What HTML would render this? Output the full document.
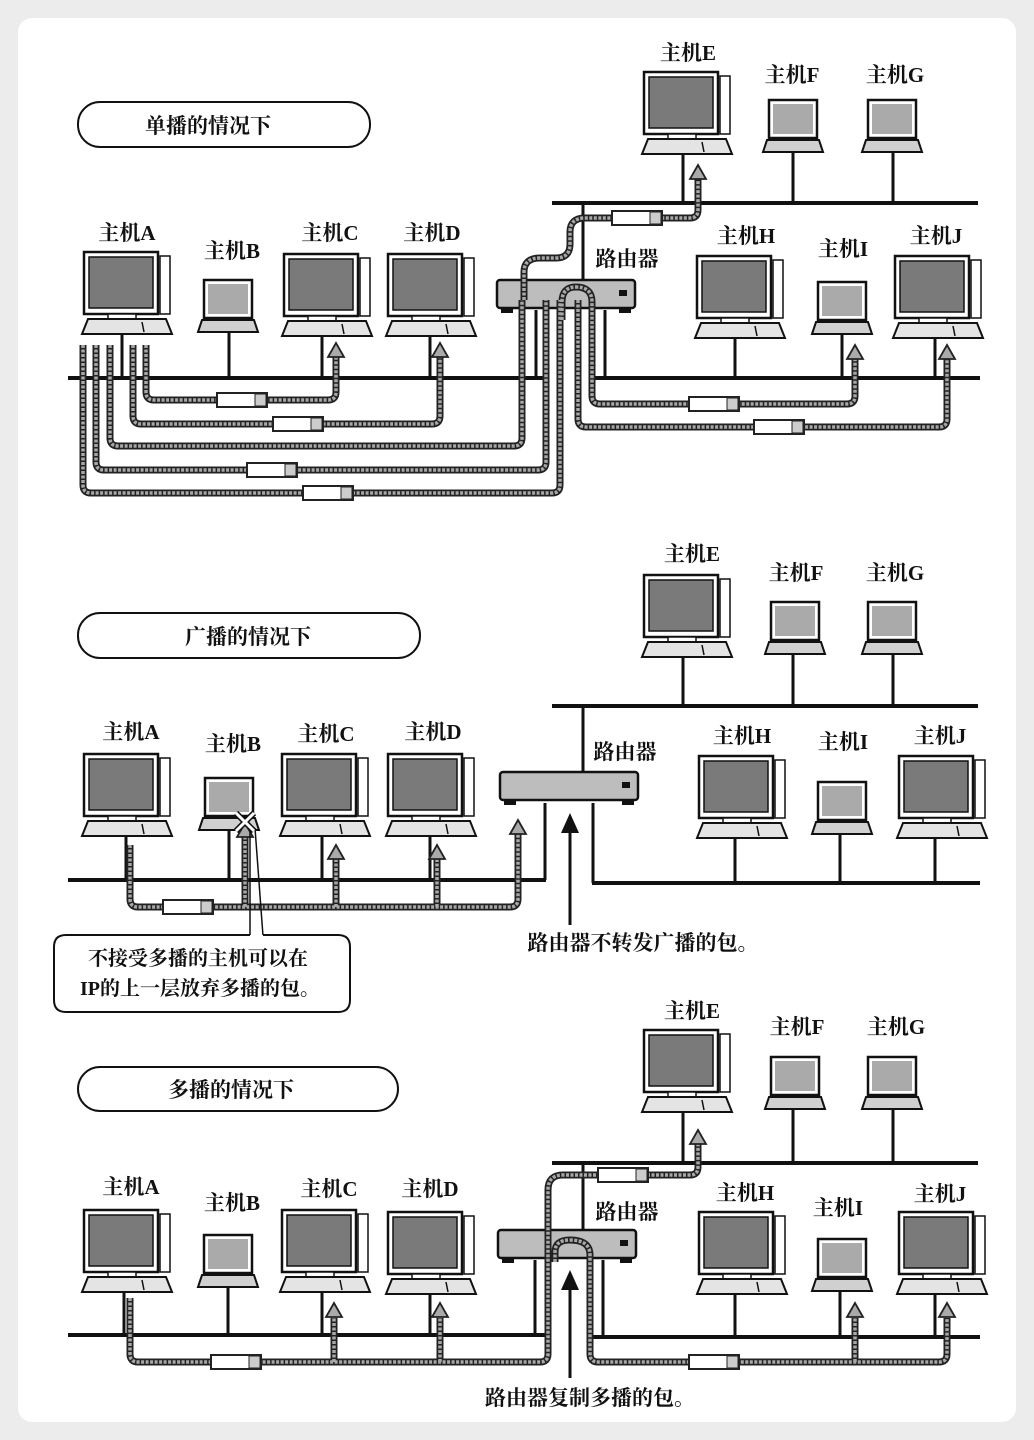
<!DOCTYPE html>
<html><head><meta charset="utf-8"><style>
html,body{margin:0;padding:0;background:#ececec;}
svg{display:block}
.t{font-family:"Liberation Serif","Noto Serif CJK SC",serif;font-weight:bold;font-size:21px;fill:#111;text-anchor:middle}
.bus{stroke:#111;stroke-width:4;fill:none}
.drop{stroke:#111;stroke-width:3;fill:none}
.po{stroke:#222;stroke-width:7;fill:none}
.pi{stroke:#a8a8a8;stroke-width:3.5;fill:none;stroke-dasharray:3 1.5}
</style></head><body>
<svg width="1034" height="1440" viewBox="0 0 1034 1440" xmlns="http://www.w3.org/2000/svg">
<defs>
<g id="pc">
<rect x="2" y="0" width="74" height="62" fill="#fff" stroke="#111" stroke-width="2.5"/>
<rect x="7" y="5" width="64" height="51" fill="#7a7a7a" stroke="#111" stroke-width="1.5"/>
<rect x="78" y="4" width="10" height="58" fill="#fff" stroke="#111" stroke-width="1.5"/>
<rect x="26" y="62" width="28" height="5" fill="#fff" stroke="#111" stroke-width="1.5"/>
<path d="M6 67 H84 L90 82 H0 Z" fill="#e4e4e4" stroke="#111" stroke-width="2"/>
<line x1="60" y1="70" x2="62" y2="80" stroke="#111" stroke-width="1.5"/>
</g>
<g id="lt">
<rect x="6" y="0" width="48" height="38" fill="#fff" stroke="#111" stroke-width="2.5"/>
<rect x="10" y="4" width="40" height="30" fill="#aaa"/>
<path d="M4 40 H56 L60 52 H0 Z" fill="#d0d0d0" stroke="#111" stroke-width="2"/>
</g>
<g id="rt">
<rect x="0" y="0" width="138" height="28" rx="3" fill="#bdbdbd" stroke="#111" stroke-width="2.5"/>
<rect x="4" y="27" width="12" height="6" fill="#111"/>
<rect x="122" y="27" width="12" height="6" fill="#111"/>
<rect x="122" y="10" width="8" height="6" fill="#111"/>
</g>
<g id="pk">
<rect x="-25" y="-7" width="50" height="14" fill="#fff" stroke="#222" stroke-width="2"/>
<rect x="13" y="-6" width="11" height="12" fill="#ccc" stroke="#222" stroke-width="1"/>
</g>
<polygon id="ga" points="0,0 -8,14 8,14" fill="#aaa" stroke="#222" stroke-width="1.8"/>
<path id="a1" d="M146 345 V392 Q146 400 154 400 H328 Q336 400 336 392 V357"/>
<path id="a2" d="M133 345 V416 Q133 424 141 424 H432 Q440 424 440 416 V357"/>
<path id="a3" d="M110 345 V438 Q110 446 118 446 H514 Q522 446 522 438 V300"/>
<path id="a4" d="M96 345 V462 Q96 470 104 470 H538 Q546 470 546 462 V300"/>
<path id="a5" d="M83 345 V485 Q83 493 91 493 H552 Q560 493 560 485 V300"/>
<path id="a6" d="M524 300 V272 Q524 258 540 258 H556 Q570 258 570 244 V232 Q570 218 585 218 H690 Q698 218 698 210 V179"/>
<path id="a7" d="M562 320 V302 Q562 287 576 287 Q592 287 592 302 V396 Q592 404 600 404 H847 Q855 404 855 396 V359"/>
<path id="a8" d="M578 300 V419 Q578 427 586 427 H939 Q947 427 947 419 V359"/>
<path id="b1" d="M130 845 V899 Q130 907 138 907 H510 Q518 907 518 899 V834"/>
<path id="b2" d="M245 907 V837 M336 907 V859 M437 907 V859"/>
<path id="c1" d="M130 1298 V1354 Q130 1362 138 1362 H540 Q548 1362 548 1354 V1190 Q548 1175 563 1175 H690 Q698 1175 698 1167 V1144"/>
<path id="c2" d="M334 1362 V1318 M440 1362 V1318"/>
<path id="c3" d="M555 1262 V1252 Q555 1240 570 1240 Q590 1240 590 1255 V1354 Q590 1362 598 1362 H939 Q947 1362 947 1354 V1318"/>
<path id="c4" d="M855 1362 V1318"/>
</defs>
<rect x="0" y="0" width="1034" height="1440" fill="#ececec"/>
<rect x="18" y="18" width="998" height="1404" rx="14" fill="#fff"/>

<!-- ============ SECTION 1 ============ -->
<rect x="78" y="102" width="292" height="45" rx="22" fill="#fff" stroke="#111" stroke-width="2"/>
<text class="t" x="208" y="133">单播的情况下</text>
<text class="t" x="127" y="240">主机A</text><text class="t" x="232" y="258">主机B</text>
<text class="t" x="330" y="240">主机C</text><text class="t" x="432" y="240">主机D</text>
<text class="t" x="688" y="60">主机E</text><text class="t" x="792" y="82">主机F</text>
<text class="t" x="895" y="82">主机G</text><text class="t" x="746" y="243">主机H</text>
<text class="t" x="843" y="256">主机I</text><text class="t" x="936" y="243">主机J</text>
<text class="t" x="627" y="266">路由器</text>
<line class="bus" x1="68" y1="378" x2="546" y2="378"/>
<line class="bus" x1="592" y1="378" x2="980" y2="378"/>
<line class="bus" x1="552" y1="203" x2="978" y2="203"/>
<g class="drop"><line x1="122" y1="333" x2="122" y2="378"/><line x1="229" y1="330" x2="229" y2="378"/><line x1="322" y1="336" x2="322" y2="378"/><line x1="430" y1="336" x2="430" y2="378"/>
<line x1="683" y1="154" x2="683" y2="203"/><line x1="793" y1="153" x2="793" y2="203"/><line x1="893" y1="153" x2="893" y2="203"/>
<line x1="735" y1="336" x2="735" y2="378"/><line x1="842" y1="333" x2="842" y2="378"/><line x1="935" y1="336" x2="935" y2="378"/>
<line x1="583" y1="203" x2="583" y2="282"/><line x1="536" y1="310" x2="536" y2="378"/><line x1="605" y1="310" x2="605" y2="378"/></g>
<use href="#pc" x="82" y="252"/><use href="#lt" x="198" y="280"/><use href="#pc" x="282" y="254"/><use href="#pc" x="386" y="254"/>
<use href="#pc" x="642" y="72"/><use href="#lt" x="763" y="100"/><use href="#lt" x="862" y="100"/>
<use href="#pc" x="695" y="256"/><use href="#lt" x="812" y="282"/><use href="#pc" x="893" y="256"/>
<use href="#rt" x="497" y="280"/>
<g class="po"><use href="#a1"/><use href="#a2"/><use href="#a3"/><use href="#a4"/><use href="#a5"/><use href="#a6"/><use href="#a7"/><use href="#a8"/></g>
<g class="pi"><use href="#a1"/><use href="#a2"/><use href="#a3"/><use href="#a4"/><use href="#a5"/><use href="#a6"/><use href="#a7"/><use href="#a8"/></g>
<use href="#ga" x="336" y="343"/><use href="#ga" x="440" y="343"/><use href="#ga" x="698" y="165"/><use href="#ga" x="855" y="345"/><use href="#ga" x="947" y="345"/>
<use href="#pk" x="242" y="400"/><use href="#pk" x="298" y="424"/><use href="#pk" x="272" y="470"/><use href="#pk" x="328" y="493"/>
<use href="#pk" x="637" y="218"/><use href="#pk" x="714" y="404"/><use href="#pk" x="779" y="427"/>

<!-- ============ SECTION 2 ============ -->
<rect x="78" y="613" width="342" height="45" rx="22" fill="#fff" stroke="#111" stroke-width="2"/>
<text class="t" x="248" y="644">广播的情况下</text>
<text class="t" x="131" y="739">主机A</text><text class="t" x="233" y="751">主机B</text>
<text class="t" x="326" y="741">主机C</text><text class="t" x="433" y="739">主机D</text>
<text class="t" x="692" y="561">主机E</text><text class="t" x="796" y="580">主机F</text>
<text class="t" x="895" y="580">主机G</text><text class="t" x="742" y="743">主机H</text>
<text class="t" x="843" y="749">主机I</text><text class="t" x="940" y="743">主机J</text>
<text class="t" x="625" y="759">路由器</text>
<line class="bus" x1="68" y1="880" x2="546" y2="880"/>
<line class="bus" x1="592" y1="883" x2="980" y2="883"/>
<line class="bus" x1="552" y1="706" x2="978" y2="706"/>
<g class="drop"><line x1="126" y1="834" x2="126" y2="880"/><line x1="229" y1="830" x2="229" y2="880"/><line x1="322" y1="834" x2="322" y2="880"/><line x1="430" y1="834" x2="430" y2="880"/>
<line x1="683" y1="656" x2="683" y2="706"/><line x1="793" y1="654" x2="793" y2="706"/><line x1="893" y1="654" x2="893" y2="706"/>
<line x1="735" y1="836" x2="735" y2="883"/><line x1="840" y1="834" x2="840" y2="883"/><line x1="935" y1="836" x2="935" y2="883"/>
<line x1="583" y1="706" x2="583" y2="774"/><line x1="545" y1="803" x2="545" y2="880"/><line x1="593" y1="803" x2="593" y2="883"/></g>
<use href="#pc" x="82" y="754"/><use href="#lt" x="199" y="778"/><use href="#pc" x="280" y="754"/><use href="#pc" x="386" y="754"/>
<use href="#pc" x="642" y="575"/><use href="#lt" x="765" y="602"/><use href="#lt" x="862" y="602"/>
<use href="#pc" x="697" y="756"/><use href="#lt" x="812" y="782"/><use href="#pc" x="897" y="756"/>
<use href="#rt" x="500" y="772"/>
<g class="po"><use href="#b1"/><use href="#b2"/></g>
<g class="pi"><use href="#b1"/><use href="#b2"/></g>
<use href="#ga" x="518" y="820"/><use href="#ga" x="245" y="823"/><use href="#ga" x="336" y="845"/><use href="#ga" x="437" y="845"/>
<use href="#pk" x="188" y="907"/>
<line x1="570" y1="925" x2="570" y2="830" stroke="#111" stroke-width="3"/>
<polygon points="570,813 561,833 579,833" fill="#111"/>
<text class="t" x="643" y="950">路由器不转发广播的包。</text>
<path d="M250 828 V936 M255 828 L263 936" stroke="#111" stroke-width="1.5" fill="none"/>
<path d="M250 935 H66 Q54 935 54 947 V1000 Q54 1012 66 1012 H338 Q350 1012 350 1000 V947 Q350 935 338 935 H263" fill="#fff" stroke="#111" stroke-width="2"/>
<g stroke="#111" stroke-width="6"><line x1="236" y1="813" x2="254" y2="831"/><line x1="254" y1="813" x2="236" y2="831"/></g>
<g stroke="#fff" stroke-width="3"><line x1="236" y1="813" x2="254" y2="831"/><line x1="254" y1="813" x2="236" y2="831"/></g>
<text class="t" x="198" y="965" style="font-size:20px">不接受多播的主机可以在</text>
<text class="t" x="200" y="995" style="font-size:20px">IP的上一层放弃多播的包。</text>

<!-- ============ SECTION 3 ============ -->
<rect x="78" y="1067" width="320" height="44" rx="22" fill="#fff" stroke="#111" stroke-width="2"/>
<text class="t" x="231" y="1097">多播的情况下</text>
<text class="t" x="131" y="1194">主机A</text><text class="t" x="232" y="1210">主机B</text>
<text class="t" x="329" y="1196">主机C</text><text class="t" x="430" y="1196">主机D</text>
<text class="t" x="692" y="1018">主机E</text><text class="t" x="797" y="1034">主机F</text>
<text class="t" x="896" y="1034">主机G</text><text class="t" x="745" y="1200">主机H</text>
<text class="t" x="838" y="1215">主机I</text><text class="t" x="940" y="1201">主机J</text>
<text class="t" x="627" y="1219">路由器</text>
<line class="bus" x1="68" y1="1335" x2="546" y2="1335"/>
<line class="bus" x1="592" y1="1337" x2="980" y2="1337"/>
<line class="bus" x1="552" y1="1163" x2="978" y2="1163"/>
<g class="drop"><line x1="124" y1="1290" x2="124" y2="1335"/><line x1="228" y1="1285" x2="228" y2="1335"/><line x1="322" y1="1290" x2="322" y2="1335"/><line x1="430" y1="1292" x2="430" y2="1335"/>
<line x1="683" y1="1110" x2="683" y2="1163"/><line x1="793" y1="1108" x2="793" y2="1163"/><line x1="893" y1="1108" x2="893" y2="1163"/>
<line x1="735" y1="1292" x2="735" y2="1337"/><line x1="840" y1="1290" x2="840" y2="1337"/><line x1="935" y1="1292" x2="935" y2="1337"/>
<line x1="583" y1="1163" x2="583" y2="1232"/><line x1="535" y1="1260" x2="535" y2="1335"/><line x1="603" y1="1260" x2="603" y2="1337"/></g>
<use href="#pc" x="82" y="1210"/><use href="#lt" x="198" y="1235"/><use href="#pc" x="280" y="1210"/><use href="#pc" x="386" y="1212"/>
<use href="#pc" x="642" y="1030"/><use href="#lt" x="765" y="1057"/><use href="#lt" x="862" y="1057"/>
<use href="#pc" x="697" y="1212"/><use href="#lt" x="812" y="1239"/><use href="#pc" x="897" y="1212"/>
<use href="#rt" x="498" y="1230"/>
<g class="po"><use href="#c1"/><use href="#c2"/><use href="#c3"/><use href="#c4"/></g>
<g class="pi"><use href="#c1"/><use href="#c2"/><use href="#c3"/><use href="#c4"/></g>
<use href="#ga" x="698" y="1130"/><use href="#ga" x="334" y="1303"/><use href="#ga" x="440" y="1303"/><use href="#ga" x="855" y="1303"/><use href="#ga" x="947" y="1303"/>
<use href="#pk" x="236" y="1362"/><use href="#pk" x="623" y="1175"/><use href="#pk" x="714" y="1362"/>
<line x1="570" y1="1378" x2="570" y2="1288" stroke="#111" stroke-width="3"/>
<polygon points="570,1270 561,1290 579,1290" fill="#111"/>
<text class="t" x="590" y="1405">路由器复制多播的包。</text>
</svg>
</body></html>
